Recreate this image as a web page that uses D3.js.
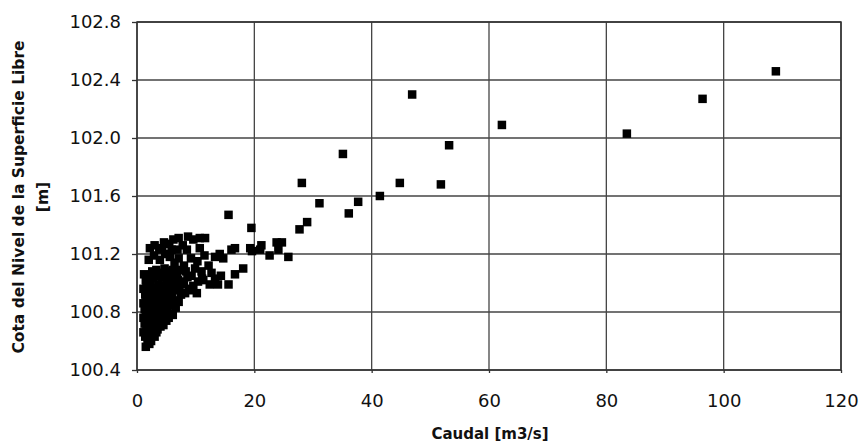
<!DOCTYPE html>
<html>
<head>
<meta charset="utf-8">
<script src="https://cdn.jsdelivr.net/npm/d3@7"></script>
<style>
  body { margin: 0; background: #fff; }
  text { font-family: "DejaVu Sans", Arial, sans-serif; fill: #111; }
</style>
</head>
<body>
<div id="chart"></div>
<script>
// Caudal (m3/s) and water level (m)
const caudal = [
  1.5, 1.8, 2.1, 2.4,
  1.4, 1.9, 2.5, 3.0, 1.1, 3.3,
  1.6, 2.2, 2.8, 3.5, 4.0,
  1.3, 1.9, 2.5, 3.1, 3.8, 4.4, 5.0, 4.5, 1.1,
  1.5, 2.1, 2.7, 3.4, 4.1, 4.7, 5.5, 6.1, 5.4,
  1.3, 1.9, 2.6, 3.2, 3.9, 4.5, 5.2, 5.9, 6.6, 1.1,
  1.6, 2.3, 2.9, 3.6, 4.2, 4.9, 5.6, 6.3, 7.1,
  1.4, 2.0, 2.7, 3.3, 4.0, 4.6, 5.3, 6.0, 6.7, 7.5, 8.2, 9.0, 1.1,
  1.6, 2.3, 3.0, 3.7, 4.4, 5.1, 5.8, 6.5, 7.2, 8.9, 9.6, 8.0, 13.8,
  1.5, 2.1, 2.8, 3.5, 4.2, 4.9, 5.6, 6.3, 7.0, 7.8, 10.4, 11.1, 8.6, 9.3, 14.3, 1.2,
  2.6, 3.3, 4.0, 4.7, 5.4, 6.1, 6.8, 9.9, 11.0, 7.5, 8.3, 12.7,
  2.0, 2.9, 5.6, 6.4, 7.1, 8.0, 12.2, 13.3, 14.7, 3.9, 4.8, 9.2, 10.3, 11.5,
  2.2, 3.0, 3.8, 4.6, 5.5, 6.2, 7.1, 7.8, 8.7, 9.6, 10.7, 11.6, 5.9, 8.5, 10.7, 14.1, 4.3, 6.9,
  10.2, 11.3, 12.4, 13.3, 15.6, 16.7, 18.1,
  15.6, 19.5, 16.1, 16.7, 19.3, 19.6, 21.0, 21.2, 22.6, 23.8, 24.7, 24.1, 25.8,
  27.7, 29.0, 31.1, 37.7, 36.1, 41.4, 28.1, 44.8, 51.8, 35.1, 53.2, 46.9,
  62.2, 83.5, 96.4, 108.9
]
const cota = [
  100.56, 100.59, 100.58, 100.60,
  100.63, 100.62, 100.64, 100.63, 100.66, 100.66,
  100.68, 100.67, 100.69, 100.68, 100.70,
  100.72, 100.73, 100.72, 100.74, 100.73, 100.75, 100.74, 100.71, 100.76,
  100.77, 100.78, 100.77, 100.79, 100.78, 100.80, 100.79, 100.78, 100.76,
  100.82, 100.83, 100.82, 100.84, 100.83, 100.85, 100.84, 100.85, 100.83, 100.86,
  100.87, 100.88, 100.87, 100.89, 100.88, 100.90, 100.89, 100.88, 100.87,
  100.92, 100.93, 100.92, 100.94, 100.93, 100.95, 100.94, 100.93, 100.95, 100.92, 100.93, 100.95, 100.96,
  100.97, 100.98, 100.97, 100.99, 100.98, 101.00, 100.98, 100.99, 100.97, 100.96, 100.98, 100.99, 100.99,
  101.02, 101.04, 101.03, 101.05, 101.04, 101.05, 101.03, 101.04, 101.02, 101.01, 101.01, 101.03, 101.04, 101.05, 101.05, 101.06,
  101.08, 101.09, 101.07, 101.10, 101.08, 101.09, 101.07, 101.10, 101.08, 101.09, 101.08, 101.07,
  101.16, 101.19, 101.18, 101.14, 101.17, 101.12, 101.12, 101.18, 101.17, 101.16, 101.20, 101.17, 101.15, 101.19,
  101.24, 101.26, 101.23, 101.28, 101.27, 101.30, 101.31, 101.26, 101.32, 101.30, 101.31, 101.31, 101.23, 101.23, 101.24, 101.20, 101.24, 101.23,
  100.93, 101.02, 100.99, 101.03, 100.99, 101.06, 101.10,
  101.47, 101.38, 101.23, 101.24, 101.24, 101.22, 101.23, 101.26, 101.19, 101.28, 101.28, 101.23, 101.18,
  101.37, 101.42, 101.55, 101.56, 101.48, 101.60, 101.69, 101.69, 101.68, 101.89, 101.95, 102.30,
  102.09, 102.03, 102.27, 102.46
]
const xTicks = [0, 20, 40, 60, 80, 100, 120]
const yTicks = [100.4, 100.8, 101.2, 101.6, 102.0, 102.4, 102.8]

const data = caudal.map((q, i) => [q, cota[i]])

const width = 860
const height = 443
const margin = { top: 22, right: 19, bottom: 73, left: 137 }
const plotW = width - margin.left - margin.right
const plotH = height - margin.top - margin.bottom

const xScale = d3.scaleLinear().domain([0, 120]).range([0, plotW])
const yScale = d3.scaleLinear().domain([100.4, 102.8]).range([plotH, 0])

const svg = d3.select("#chart")
    .append("svg")
    .attr("width", width)
    .attr("height", height)

const g = svg.append("g")
    .attr("transform", `translate(${margin.left}, ${margin.top})`)

// Grid
g.append("g")
    .selectAll("line")
    .data(xTicks)
    .enter()
    .append("line")
    .attr("x1", d => xScale(d))
    .attr("x2", d => xScale(d))
    .attr("y1", 0)
    .attr("y2", plotH)
    .attr("stroke", "#444")
    .attr("stroke-width", 1.3)

g.append("g")
    .selectAll("line")
    .data(yTicks)
    .enter()
    .append("line")
    .attr("x1", 0)
    .attr("x2", plotW)
    .attr("y1", d => yScale(d))
    .attr("y2", d => yScale(d))
    .attr("stroke", "#444")
    .attr("stroke-width", 1.3)

// Frame
g.append("rect")
    .attr("width", plotW)
    .attr("height", plotH)
    .attr("fill", "none")
    .attr("stroke", "#333")
    .attr("stroke-width", 1.5)

// Axes
const xAxis = d3.axisBottom(xScale).tickValues(xTicks).tickSize(3).tickPadding(21)
const yAxis = d3.axisLeft(yScale).tickValues(yTicks).tickSize(5).tickPadding(11)
    .tickFormat(d3.format(".1f"))

g.append("g")
    .attr("transform", `translate(0, ${plotH})`)
    .call(xAxis)
    .call(a => a.select(".domain").remove())
    .call(a => a.selectAll("line").attr("stroke", "#333").attr("stroke-width", 1.3))
    .call(a => a.selectAll("text").attr("font-size", 18).attr("font-family", "DejaVu Sans").attr("fill", "#111"))

g.append("g")
    .call(yAxis)
    .call(a => a.select(".domain").remove())
    .call(a => a.selectAll("line").attr("stroke", "#333").attr("stroke-width", 1.3))
    .call(a => a.selectAll("text").attr("font-size", 18).attr("font-family", "DejaVu Sans").attr("fill", "#111"))

// Points
const s = 8.5
g.append("g")
    .selectAll("rect")
    .data(data)
    .enter()
    .append("rect")
    .attr("x", d => xScale(d[0]) - s / 2)
    .attr("y", d => yScale(d[1]) - s / 2)
    .attr("width", s)
    .attr("height", s)
    .attr("fill", "#000")

// Axis titles
svg.append("text")
    .attr("x", margin.left + plotW / 2 + 1)
    .attr("y", 439)
    .attr("text-anchor", "middle")
    .attr("font-size", 15)
    .attr("font-weight", "bold")
    .text("Caudal [m3/s]")

const yTitle = svg.append("text")
    .attr("transform", "translate(0, 197) rotate(-90)")
    .attr("text-anchor", "middle")
    .attr("font-size", 15.5)
    .attr("font-weight", "bold")
yTitle.append("tspan").attr("x", 0).attr("y", 24).text("Cota del Nivel de la Superficie Libre")
yTitle.append("tspan").attr("x", 0).attr("y", 48).text("[m]")
</script>
</body>
</html>
